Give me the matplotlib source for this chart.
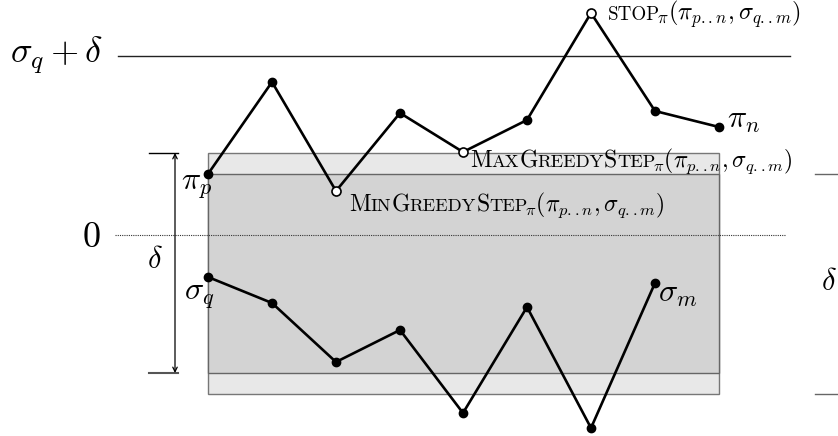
import os
import matplotlib
matplotlib.use("Agg")
import matplotlib.pyplot as plt
import matplotlib.transforms as mtransforms
from matplotlib.font_manager import FontProperties
from matplotlib.patches import Rectangle

plt.rcParams['mathtext.fontset'] = 'cm'
cmr = os.path.join(matplotlib.get_data_path(), 'fonts', 'ttf', 'cmr10.ttf')

# path pi (top) and sigma (bottom), in picture units
pi_x = [208, 272, 336, 400, 463, 527, 591, 655, 719]
pi_y = [174, 82, 191, 113, 152, 120, 13, 111, 127]
pi_open = [2, 4, 6]
sigma_x = [208, 272, 336, 400, 463, 527, 591, 655]
sigma_y = [277, 303, 362, 330, 413, 307, 428, 283]

# levels
upper_line = 56
zero_line = 235
band_outer = (153, 394)
band_inner = (174, 373)

fig = plt.figure(figsize=(8.38, 4.36), dpi=100)
ax = fig.add_axes([0, 0, 1, 1])
ax.set_xlim(0, 838)
ax.set_ylim(436, 0)
ax.axis('off')

renderer = fig.canvas.get_renderer()


def sc_text(x, y, parts, size):
    # draw pieces one after another (fake small caps)
    trans = ax.transData
    for s, scale in parts:
        if s.startswith('$'):
            trans = mtransforms.offset_copy(trans, x=-4, units='dots')
            t = ax.text(x, y, s, fontsize=size * scale, transform=trans,
                        va='baseline', ha='left', zorder=6)
        else:
            t = ax.text(x, y, s, fontproperties=FontProperties(fname=cmr, size=size * scale),
                        transform=trans, va='baseline', ha='left', zorder=6)
        t.draw(renderer)
        ex = t.get_window_extent(renderer)
        trans = mtransforms.offset_copy(t.get_transform(), x=ex.width, units='dots')


# grey bands
x0, x1 = pi_x[0], pi_x[-1]
ax.add_patch(Rectangle((x0, band_outer[0]), x1 - x0, band_outer[1] - band_outer[0],
                       facecolor='#e8e8e8', edgecolor='#777777', lw=1, zorder=1))
ax.add_patch(Rectangle((x0, band_inner[0]), x1 - x0, band_inner[1] - band_inner[0],
                       facecolor='#d3d3d3', edgecolor='#666666', lw=1, zorder=2))

# horizontal guide lines
ax.plot([118, 790], [upper_line, upper_line], color='#222222', lw=1, zorder=3)
ax.plot([115, 786], [zero_line, zero_line], color='#333333', lw=0.8, ls=(0, (1, 1)), zorder=3)
ax.plot([815, 838], [band_inner[0], band_inner[0]], color='#666666', lw=1)
ax.plot([815, 838], [band_outer[1], band_outer[1]], color='#666666', lw=1)

# delta span on the left
ax.plot([149, 178], [band_outer[0], band_outer[0]], color='black', lw=1)
ax.plot([149, 178], [band_inner[1], band_inner[1]], color='#555555', lw=1.5)
ax.annotate('', xy=(175, band_outer[0]), xytext=(175, band_inner[1]),
            arrowprops=dict(arrowstyle='<->', lw=0.9, color='black',
                            shrinkA=0, shrinkB=0, mutation_scale=8))

# paths
ax.plot(pi_x, pi_y, color='black', lw=1.9, zorder=4)
ax.plot(sigma_x, sigma_y, color='black', lw=1.9, zorder=4)
filled = [i for i in range(len(pi_x)) if i not in pi_open]
ax.plot([pi_x[i] for i in filled], [pi_y[i] for i in filled], 'o', color='black', ms=6, zorder=5)
ax.plot([pi_x[i] for i in pi_open], [pi_y[i] for i in pi_open], 'o', mfc='white',
        mec='black', mew=1.2, ms=6.5, zorder=5)
ax.plot(sigma_x, sigma_y, 'o', color='black', ms=6, zorder=5)

# labels
big = 26
ax.text(10, 63, r'$\sigma_q + \delta$', fontsize=big, va='baseline')
ax.text(82, 247, r'$0$', fontsize=big, va='baseline')
ax.text(147, 268, r'$\delta$', fontsize=22, va='baseline')
ax.text(821, 290, r'$\delta$', fontsize=22, va='baseline')

lab = 23
ax.text(181, 190, r'$\pi_p$', fontsize=lab, va='baseline', zorder=6)
ax.text(184, 300, r'$\sigma_q$', fontsize=lab, va='baseline', zorder=6)
ax.text(727, 128, r'$\pi_n$', fontsize=lab, va='baseline', zorder=6)
ax.text(658, 302, r'$\sigma_m$', fontsize=lab, va='baseline', zorder=6)

tail = r'${}_{\pi}(\pi_{p{.}{.}n},\sigma_{q{.}{.}m})$'
sc = 0.78
size = 17
sc_text(470, 167, [('M', 1), ('AX', sc), ('G', 1), ('REEDY', sc), ('S', 1), ('TEP', sc),
                   (tail, 1)], size)
sc_text(349, 211, [('M', 1), ('IN', sc), ('G', 1), ('REEDY', sc), ('S', 1), ('TEP', sc),
                   (tail, 1)], size)
sc_text(608, 20, [('STOP', sc), (tail, 1)], size * 1.03)

fig.savefig('out.png', dpi=100)
